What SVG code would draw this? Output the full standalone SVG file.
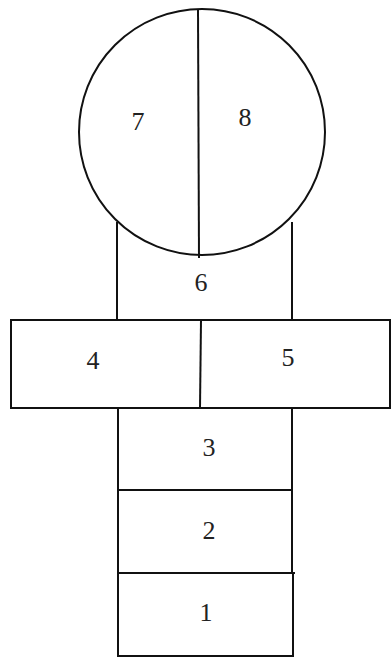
<svg xmlns="http://www.w3.org/2000/svg" width="391" height="658" viewBox="0 0 391 658">
<style>
.ln{fill:none;stroke:#111;stroke-width:2}
.t{font-family:"Liberation Serif","DejaVu Serif",serif;font-size:26px;fill:#222;text-anchor:middle}
</style>
<rect width="391" height="658" fill="#fff"/>
<g id="connectors">
<line class="ln" x1="117" y1="222" x2="117" y2="320"/>
<line class="ln" x1="292" y1="222" x2="292" y2="320"/>
</g>
<g id="circle78">
<circle class="ln" cx="202" cy="132" r="123"/>
<line class="ln" x1="198" y1="9" x2="199" y2="258"/>
<text class="t" x="138" y="130">7</text>
<text class="t" x="245" y="126">8</text>
</g>
<g id="box6">
<text class="t" x="201" y="291">6</text>
</g>
<g id="box45">
<rect class="ln" x="11" y="320" width="379" height="88"/>
<line class="ln" x1="201" y1="320" x2="200" y2="408"/>
<text class="t" x="93" y="369">4</text>
<text class="t" x="288" y="366">5</text>
</g>
<g id="box3">
<line class="ln" x1="118" y1="408" x2="118" y2="490"/>
<line class="ln" x1="292" y1="408" x2="292" y2="490"/>
<text class="t" x="209" y="456">3</text>
</g>
<g id="box2">
<line class="ln" x1="118" y1="490" x2="292" y2="490"/>
<line class="ln" x1="118" y1="490" x2="118" y2="573"/>
<line class="ln" x1="292" y1="490" x2="292" y2="573"/>
<text class="t" x="209" y="539">2</text>
</g>
<g id="box1">
<line class="ln" x1="118" y1="573" x2="295" y2="573"/>
<rect class="ln" x="118" y="573" width="175" height="83"/>
<text class="t" x="206" y="621">1</text>
</g>
</svg>
